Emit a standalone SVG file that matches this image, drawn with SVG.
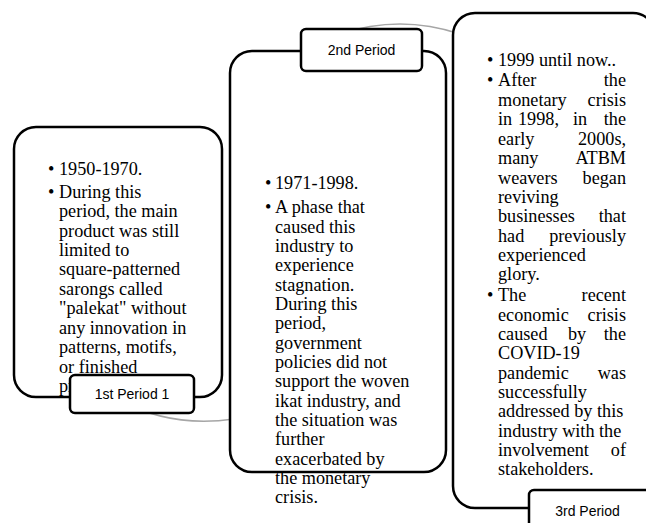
<svg xmlns="http://www.w3.org/2000/svg" width="646" height="523" viewBox="0 0 646 523">
<style>
.box{fill:#fff;stroke:#000;stroke-width:2.5}
.lbl{fill:#fff;stroke:#000;stroke-width:2.5}
.arc{fill:none;stroke:#a6a6a6;stroke-width:1.5}
.t{font-family:"Liberation Serif","Times New Roman",serif;font-size:18.2px;fill:#000}
.l{font-family:"Liberation Sans",Arial,sans-serif;font-size:14px;fill:#000;text-anchor:middle}
.e{text-anchor:end}
</style>
<g id="connectors">
<path class="arc" d="M340,34 Q400,14 460,34"/>
<path class="arc" d="M120,400 Q170,428 234,419"/>
</g>
<g id="node1">
<rect class="box" x="14" y="127" width="208" height="270" rx="22"/>
<g class="t">
<text x="48" y="175">•</text><text x="59" y="175">1950-1970.</text>
<text x="48" y="197.5">•</text>
<text x="59" y="197.5">During this</text>
<text x="59" y="217">period, the main</text>
<text x="59" y="236.5">product was still</text>
<text x="59" y="256">limited to</text>
<text x="59" y="275">square-patterned</text>
<text x="59" y="294.5">sarongs called</text>
<text x="59" y="314">"palekat" without</text>
<text x="59" y="333.5">any innovation in</text>
<text x="59" y="353">patterns, motifs,</text>
<text x="59" y="372.5">or finished</text>
<text x="59" y="392">products.</text>
</g>
</g>
<g id="label1">
<rect class="lbl" x="70" y="375" width="124" height="38" rx="5"/>
<text class="l" x="132" y="399">1st Period 1</text>
</g>
<g id="node2">
<rect class="box" x="230" y="51" width="216" height="421" rx="22"/>
<g class="t">
<text x="265" y="189">•</text><text x="275" y="189">1971-1998.</text>
<text x="265" y="213">•</text>
<text x="275" y="213">A phase that</text>
<text x="275" y="232.5">caused this</text>
<text x="275" y="252">industry to</text>
<text x="275" y="271">experience</text>
<text x="275" y="290.5">stagnation.</text>
<text x="275" y="310">During this</text>
<text x="275" y="329">period,</text>
<text x="275" y="348.5">government</text>
<text x="275" y="368">policies did not</text>
<text x="275" y="387">support the woven</text>
<text x="275" y="406.5">ikat industry, and</text>
<text x="275" y="426">the situation was</text>
<text x="275" y="445">further</text>
<text x="275" y="464.5">exacerbated by</text>
<text x="275" y="484">the monetary</text>
<text x="275" y="503">crisis.</text>
</g>
</g>
<g id="label2">
<rect class="lbl" x="301" y="29" width="121" height="42" rx="5"/>
<text class="l" x="361.5" y="55">2nd Period</text>
</g>
<g id="node3">
<rect class="box" x="453" y="13" width="202" height="495" rx="22"/>
<g class="t">
<text x="487" y="66">•</text><text x="498" y="66">1999 until now..</text>
<text x="487" y="86">•</text>
<text x="498" y="86">After</text><text class="e" x="626" y="86">the</text>
<text x="498" y="105.5">monetary</text><text class="e" x="626" y="105.5">crisis</text>
<text x="498" y="125">in</text><text x="518" y="125">1998,</text><text x="573" y="125">in</text><text class="e" x="626" y="125">the</text>
<text x="498" y="144.5">early</text><text class="e" x="626" y="144.5">2000s,</text>
<text x="498" y="164">many</text><text class="e" x="626" y="164">ATBM</text>
<text x="498" y="183.5">weavers</text><text class="e" x="626" y="183.5">began</text>
<text x="498" y="203">reviving</text>
<text x="498" y="222">businesses</text><text class="e" x="626" y="222">that</text>
<text x="498" y="241.5">had</text><text class="e" x="626" y="241.5">previously</text>
<text x="498" y="261">experienced</text>
<text x="498" y="280">glory.</text>
<text x="487" y="301">•</text>
<text x="498" y="301">The</text><text class="e" x="626" y="301">recent</text>
<text x="498" y="320.5">economic</text><text class="e" x="626" y="320.5">crisis</text>
<text x="498" y="340">caused</text><text x="568" y="340">by</text><text class="e" x="626" y="340">the</text>
<text x="498" y="359">COVID-19</text>
<text x="498" y="378.5">pandemic</text><text class="e" x="626" y="378.5">was</text>
<text x="498" y="398">successfully</text>
<text x="498" y="417">addressed by this</text>
<text x="498" y="436.5">industry with the</text>
<text x="498" y="456">involvement</text><text class="e" x="626" y="456">of</text>
<text x="498" y="475">stakeholders.</text>
</g>
</g>
<g id="label3">
<rect class="lbl" x="529" y="490" width="126" height="45" rx="5"/>
<text class="l" x="587.5" y="516">3rd Period</text>
</g>
</svg>
